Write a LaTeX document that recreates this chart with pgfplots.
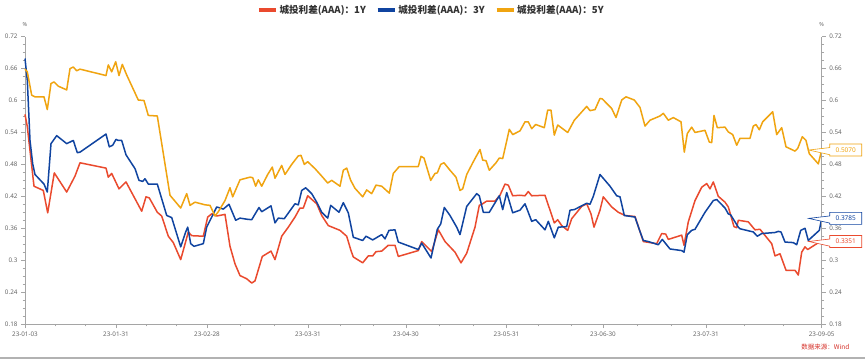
\documentclass[border=0pt]{standalone}
\usepackage{fontspec}
\setmainfont{Noto Sans}
\newfontfamily\cjk{Noto Sans CJK SC}
\usepackage{pgfplots}
\pgfplotsset{compat=1.18}
\usetikzlibrary{shapes.callouts}
\definecolor{cred}{RGB}{234,74,46}
\definecolor{cblue}{RGB}{16,68,160}
\definecolor{corange}{RGB}{240,164,16}
\definecolor{axgray}{RGB}{165,165,165}
\definecolor{txtgray}{RGB}{105,105,105}
\definecolor{srcred}{RGB}{214,48,40}

\pgfplotsset{
  common/.style={
    at={(25pt,35pt)}, anchor=south west,
    scale only axis, width=796.7pt, height=287.3pt,
    xmin=25, xmax=821.7, ymin=0.18, ymax=0.72,
    clip=false,
    axis line style={axgray, line width=0.6pt},
    every tick/.style={axgray, line width=0.6pt},
    tick align=outside,
    major tick length=4pt, minor tick length=2.5pt,
    ytick={0.18,0.24,0.3,0.36,0.42,0.48,0.54,0.6,0.66,0.72},
    minor y tick num=3,
    ticklabel style={font=\fontsize{6.3}{7}\selectfont, text=txtgray},
    /pgf/number format/assume math mode=true,
    yticklabel style={/pgf/number format/fixed, /pgf/number format/precision=2},
  }
}

\begin{document}
\begin{tikzpicture}[x=1pt,y=1pt]
\useasboundingbox (0,0) rectangle (865,359);
\fill[white] (0,0) rectangle (865,359);
\draw[black!30, line width=1.5pt] (0,1) -- (865,1);
\begin{axis}[common,
  axis x line*=bottom, axis y line*=left,
  xtick={25,116,207,308,406,506.5,603,706,821.7},
  xticklabels={23-01-03,23-01-31,23-02-28,23-03-31,23-04-30,23-05-31,23-06-30,23-07-31,23-09-05},
  minor xtick={55.3,85.7,146.3,176.7,240.7,274.3,340.7,373.3,439.5,473,538.7,570.8,637.3,671.7,744.6,783.1},
  legend style={at={(0.51,1.093)}, anchor=center, legend columns=3, draw=none, fill=none,
    font=\cjk\bfseries\fontsize{9.6}{10}\selectfont, text=black!80,
    /tikz/every even column/.append style={column sep=8pt}},
  legend image code/.code={\draw[#1, line width=3.5pt] (0pt,0pt) -- (17pt,0pt);},
  every axis plot/.append style={line width=1.5pt, line join=round},
]
\addplot[cred] coordinates {(25,.574)(27.3,.551)(34,.439)(43.3,.431)(47.7,.389)(54.3,.464)(66.7,.428)(75,.458)(80,.483)(106,.473)(108.3,.456)(111.7,.463)(119,.434)(126,.447)(141.7,.392)(146,.419)(149.3,.417)(157.3,.390)(161.7,.383)(168.3,.345)(173.3,.333)(180.7,.301)(186,.337)(188.3,.353)(191.7,.346)(203.3,.345)(207.7,.381)(211.7,.387)(216.7,.383)(225,.386)(230,.326)(235,.293)(240,.271)(246.7,.265)(251.7,.257)(255,.261)(262.3,.307)(271,.317)(275,.301)(281.7,.345)(288.3,.362)(295,.381)(300,.398)(303.3,.398)(307.7,.421)(316.7,.406)(321.7,.384)(328.3,.365)(340,.356)(346.7,.345)(351,.318)(353.3,.306)(362.7,.295)(368.3,.308)(372.7,.308)(376,.316)(381.7,.317)(388.3,.328)(395,.328)(398.3,.307)(418.3,.318)(421.7,.335)(431.7,.316)(438.3,.357)(445,.335)(455,.315)(461,.295)(466.7,.313)(475,.362)(479.3,.403)(482.7,.406)(486.7,.411)(495,.411)(500,.422)(505,.443)(508.3,.441)(512.7,.421)(520,.422)(525,.421)(528.3,.429)(531.7,.421)(545,.422)(554.3,.370)(557.7,.376)(561.7,.365)(567.7,.356)(571.7,.378)(581.7,.401)(586.7,.406)(591,.387)(594,.362)(600,.394)(603.3,.419)(611.7,.400)(618.3,.390)(625,.384)(635,.382)(643.3,.335)(656.7,.331)(661.7,.350)(665.7,.349)(668.3,.339)(681.7,.347)(684,.328)(688.3,.372)(695,.412)(701.7,.437)(706.7,.444)(710,.434)(713.3,.447)(718.3,.420)(725,.409)(728.3,.400)(734,.363)(736.7,.361)(738.3,.375)(748.3,.372)(755,.357)(760,.358)(771.7,.331)(775,.308)(780,.312)(786,.281)(795,.281)(798.3,.272)(801.7,.315)(805,.325)(807.7,.320)(819.3,.334)(821.7,.3351)};
\addlegendentry{城投利差(AAA)：1Y}
\addplot[cblue] coordinates {(25,.679)(27.3,.638)(30,.525)(32.7,.481)(35,.461)(44,.443)(47.3,.428)(51,.519)(56.7,.534)(66.7,.519)(73.3,.525)(77.3,.502)(80,.503)(106,.537)(109.3,.513)(112.7,.516)(116,.527)(118.3,.525)(121.7,.525)(126,.498)(135,.472)(139,.450)(142.7,.448)(145,.453)(148.3,.443)(157.3,.443)(166.7,.384)(171.7,.380)(180.7,.325)(185.7,.353)(187.7,.362)(190.7,.331)(194,.326)(203.3,.331)(206.7,.362)(211.7,.381)(216.7,.400)(223.3,.396)(229,.405)(235.7,.375)(240,.379)(246.7,.377)(251.7,.376)(259,.399)(261.7,.391)(271,.402)(275,.370)(278.3,.379)(284.3,.378)(295,.406)(298.3,.404)(301.7,.431)(305.7,.436)(311.7,.425)(316.7,.409)(321.7,.390)(327.7,.379)(330.7,.403)(339,.390)(343.3,.408)(348.3,.389)(353.3,.343)(362.7,.337)(366,.345)(372.7,.338)(381.7,.348)(385,.340)(389,.356)(395,.357)(398.3,.334)(418.3,.320)(421.7,.332)(431,.304)(437.3,.358)(440.7,.368)(444.3,.399)(450,.384)(456.7,.362)(460,.348)(466.7,.401)(476.7,.425)(479.3,.421)(483.3,.390)(489.3,.390)(499.3,.421)(502.7,.395)(506.7,.427)(512.7,.389)(520,.394)(525,.406)(531.7,.373)(535.7,.376)(545,.357)(548.3,.373)(554.3,.342)(558.3,.362)(566.7,.363)(570,.394)(574.3,.395)(586.7,.407)(590,.405)(593.3,.420)(600,.461)(610,.439)(616.7,.421)(620,.419)(624.3,.384)(635,.381)(639,.359)(643.3,.337)(648.3,.335)(658.3,.329)(662.3,.339)(670,.321)(681.7,.318)(684,.315)(687.3,.348)(691.7,.356)(695,.358)(705,.390)(713.3,.412)(716.7,.414)(725,.398)(728.3,.387)(730.7,.385)(738.3,.362)(740,.359)(753.3,.353)(757.3,.345)(761.7,.350)(775,.352)(778.3,.354)(781,.353)(785,.334)(793.3,.333)(796.7,.329)(800.7,.356)(805,.360)(808.3,.337)(811.7,.343)(819.3,.356)(821.7,.3785)};
\addlegendentry{城投利差(AAA)：3Y}
\addplot[corange] coordinates {(25,.659)(27.3,.654)(31.7,.610)(35,.607)(44,.607)(47.3,.583)(51,.632)(54,.635)(58.3,.627)(66.7,.620)(70,.660)(73.3,.663)(76.7,.656)(80,.659)(106,.647)(108.3,.667)(111.7,.654)(115.7,.673)(119,.647)(122.3,.668)(126.7,.648)(138.3,.601)(144,.600)(148.3,.572)(157.3,.571)(170,.422)(180.7,.398)(186.7,.425)(190,.403)(195,.409)(205,.404)(210,.403)(215,.383)(218.3,.391)(225,.412)(230,.436)(232.7,.419)(240,.451)(250,.456)(252.7,.455)(255.7,.439)(258.3,.451)(261.7,.439)(267.7,.461)(272.3,.475)(275,.454)(281.7,.478)(285,.461)(291.7,.480)(298.3,.496)(301,.497)(304.3,.480)(307.7,.485)(315,.472)(321.7,.458)(327.7,.445)(331.7,.450)(340,.439)(343.3,.469)(346.7,.473)(350.7,.450)(355,.435)(362.7,.419)(366.7,.432)(371.7,.425)(376,.441)(381.7,.439)(389.3,.426)(393.3,.463)(399.3,.476)(418.3,.476)(421,.495)(424,.492)(430.7,.450)(435,.463)(437.3,.464)(440.7,.480)(444,.483)(450,.469)(456,.456)(460,.431)(462.7,.434)(466.7,.461)(473.3,.485)(480,.508)(482.7,.488)(486,.487)(489.3,.469)(496,.483)(499.3,.492)(502.7,.491)(506.7,.524)(509.3,.546)(512.7,.536)(520,.543)(525,.560)(528.3,.560)(531.7,.547)(535.7,.555)(544.3,.549)(547.7,.582)(551,.582)(554.3,.535)(557.7,.554)(567.7,.540)(574.3,.563)(586.7,.589)(590,.581)(595,.583)(600,.604)(602.3,.603)(611.7,.585)(616,.568)(621.7,.601)(626,.607)(634.3,.601)(640,.587)(645,.552)(650,.563)(660,.571)(663.3,.576)(668.3,.563)(673.3,.568)(681,.560)(684.3,.503)(687.3,.538)(691.7,.550)(695,.540)(705,.544)(709.3,.522)(711.7,.521)(714,.572)(717.3,.549)(725,.550)(728.3,.541)(732.7,.536)(736.7,.516)(740,.529)(750,.529)(753.3,.552)(756,.555)(759.3,.545)(762.7,.560)(772.7,.579)(776.7,.536)(781.7,.549)(786,.513)(795,.505)(797.7,.510)(802.3,.532)(806,.525)(809.3,.500)(818.3,.481)(821.7,.507)};
\addlegendentry{城投利差(AAA)：5Y}
\coordinate (eo) at (axis cs:821.7,0.507);
\coordinate (eb) at (axis cs:821.7,0.3785);
\coordinate (er) at (axis cs:821.7,0.3351);
\end{axis}
\begin{axis}[common,
  axis x line=none, axis y line*=right,
]
\end{axis}
\node[font=\fontsize{5.5}{6}\selectfont, text=txtgray] at (25,334) {\%};
\node[font=\fontsize{5.5}{6}\selectfont, text=txtgray] at (821.7,334) {\%};
\tikzset{endlab/.style={rectangle callout, fill=white, line width=0.6pt, callout relative pointer={(-21pt,0pt)}, minimum width=32pt, minimum height=12pt, inner sep=1pt, font=\fontsize{6.5}{7}\selectfont}}
\node[endlab, draw=corange, text=corange] at ([xshift=24pt]eo) {0.5070};
\node[endlab, draw=cblue, text=cblue] at ([xshift=24pt]eb) {0.3785};
\node[endlab, draw=cred, text=cred] at ([xshift=24pt]er) {0.3351};
\node[anchor=east, font=\cjk\fontsize{6.5}{7}\selectfont, text=srcred] at (853,12) {数据来源：Wind};
\end{tikzpicture}
\end{document}
